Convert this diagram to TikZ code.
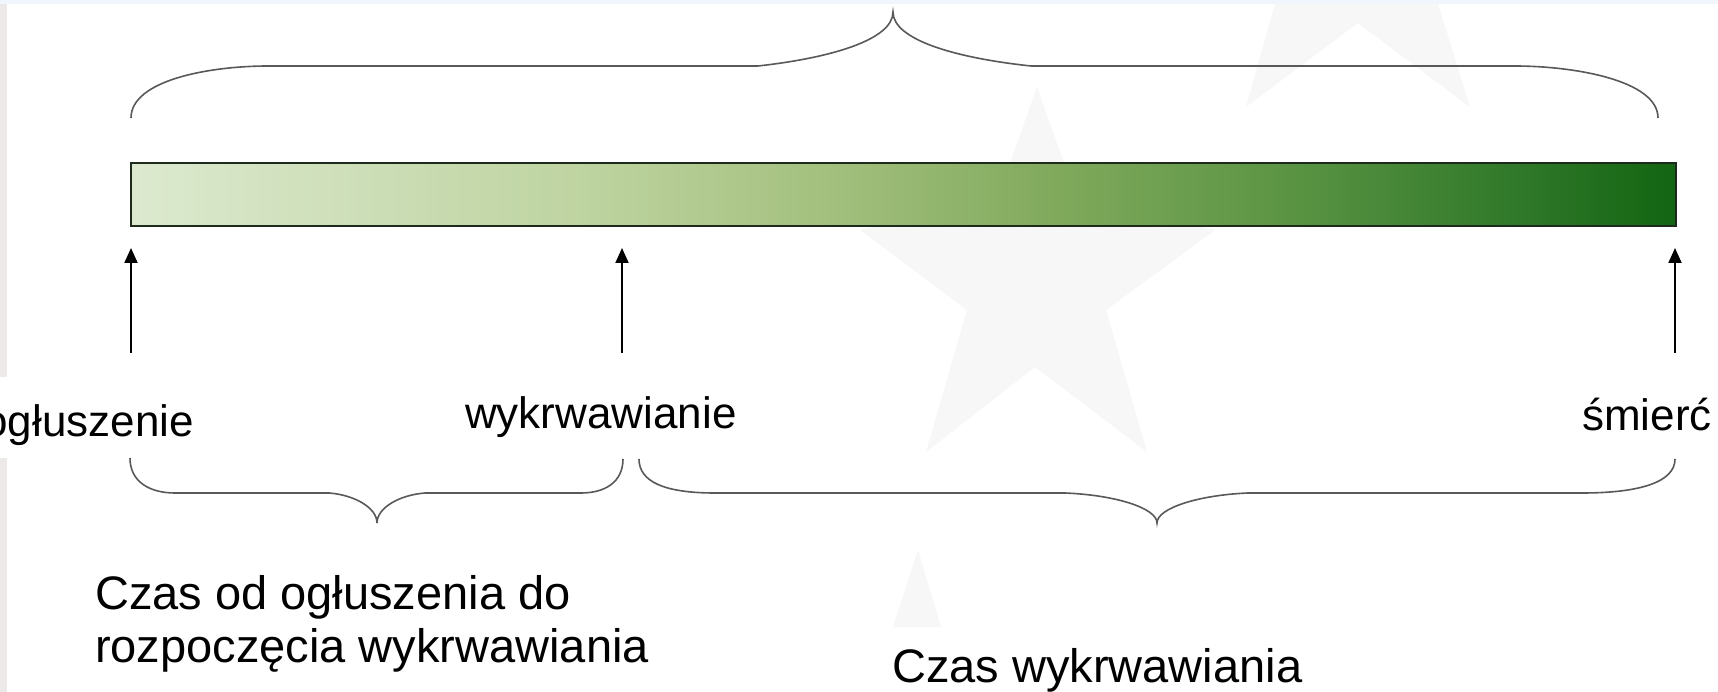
\documentclass[tikz,border=0pt]{standalone}
\usepackage{fontspec}
\setmainfont{Liberation Sans}
\usetikzlibrary{arrows.meta}
\definecolor{g0}{HTML}{DCE9CF}
\definecolor{g1}{HTML}{BDD39F}
\definecolor{g2}{HTML}{A3C07E}
\definecolor{g3}{HTML}{80A95C}
\definecolor{g4}{HTML}{5A9443}
\definecolor{g5}{HTML}{2F7829}
\definecolor{g6}{HTML}{126512}
\definecolor{barline}{HTML}{1E2A1E}
\definecolor{topband}{HTML}{F0F6FB}
\definecolor{leftstrip}{HTML}{EDE9E8}
\definecolor{wmark}{HTML}{F7F7F7}
\pgfdeclarehorizontalshading{barshade}{100bp}{color(0bp)=(g0); color(25bp)=(g0); color(40bp)=(g1); color(47.5bp)=(g2); color(55bp)=(g3); color(62.5bp)=(g4); color(70bp)=(g5); color(75bp)=(g6); color(100bp)=(g6)}
\tikzset{
  bar/.style={draw=barline, line width=1.5pt, shading=barshade, minimum width=1545pt, minimum height=63pt, inner sep=0pt},
  arr/.style={line width=2pt, -{Triangle[length=15pt,width=13pt]}},
  bracepath/.style={draw=black!65, line width=1.6pt},
  lbl/.style={inner sep=0pt, font=\fontsize{44}{52}\selectfont},
  captxt/.style={inner sep=0pt, font=\fontsize{47}{53}\selectfont},
}
\begin{document}
\begin{tikzpicture}[x=1pt,y=-1pt]
\useasboundingbox (0,0) rectangle (1718,692);
% background
\fill[white] (0,0) rectangle (1718,692);
\fill[topband] (0,0) rectangle (1718,4);
\fill[leftstrip] (0,4) rectangle (7,377);
\fill[leftstrip] (0,458) rectangle (7,692);
% watermark stars
\fill[wmark] (1037,87) -- (1077,200) -- (1215,230) -- (1106,310) -- (1147,452) -- (1035,367) -- (926,452) -- (967,310) -- (860,230) -- (997,200) -- cycle;
\fill[wmark] (1275,4) -- (1246,107) -- (1358,23) -- (1470,107) -- (1438,4) -- cycle;
\fill[wmark] (918,550) -- (941,627) -- (893,627) -- cycle;
% top brace
\draw[bracepath] (131,118) .. controls (131,80) and (210,66) .. (268,66) -- (758,66)
  .. controls (830,58) and (893,40) .. (893,12)
  .. controls (893,40) and (956,58) .. (1031,66) -- (1515,66)
  .. controls (1573,66) and (1658,80) .. (1658,118);
% bar
\node[bar] (bar) at (903.5,194.5) {};
% arrows
\coordinate (a1s) at (131,353); \coordinate (a1e) at (131,248);
\coordinate (a2s) at (622,353); \coordinate (a2e) at (622,248);
\coordinate (a3s) at (1675,353); \coordinate (a3e) at (1675,248);
\draw[arr] (a1s) -- (a1e);
\draw[arr] (a2s) -- (a2e);
\draw[arr] (a3s) -- (a3e);
% labels
\node[lbl, anchor=base east] (og) at (194,436) {ogłuszenie};
\node[lbl, anchor=base west] (wy) at (465,428) {wykrwawianie};
\node[lbl, anchor=base west] (sm) at (1582,430) {śmierć};
% bottom braces
\draw[bracepath] (130,458) .. controls (130,482) and (150,493) .. (175,493) -- (329,493)
  .. controls (355,495) and (377,508) .. (377,523)
  .. controls (377,508) and (399,495) .. (425,493) -- (581,493)
  .. controls (605,493) and (623,482) .. (623,459);
\draw[bracepath] (639,459) .. controls (639,482) and (665,493) .. (715,493) -- (1065,493)
  .. controls (1115,495) and (1157,508) .. (1157,523)
  .. controls (1157,508) and (1199,495) .. (1248,493) -- (1582,493)
  .. controls (1640,493) and (1675,482) .. (1675,459);
% bottom texts
\node[captxt, anchor=base west] (cz1) at (95,609) {Czas od ogłuszenia do};
\node[captxt, anchor=base west] (cz2) at (95,662) {rozpoczęcia wykrwawiania};
\node[captxt, anchor=base west] (cw) at (892,682) {Czas wykrwawiania};
\end{tikzpicture}
\end{document}
